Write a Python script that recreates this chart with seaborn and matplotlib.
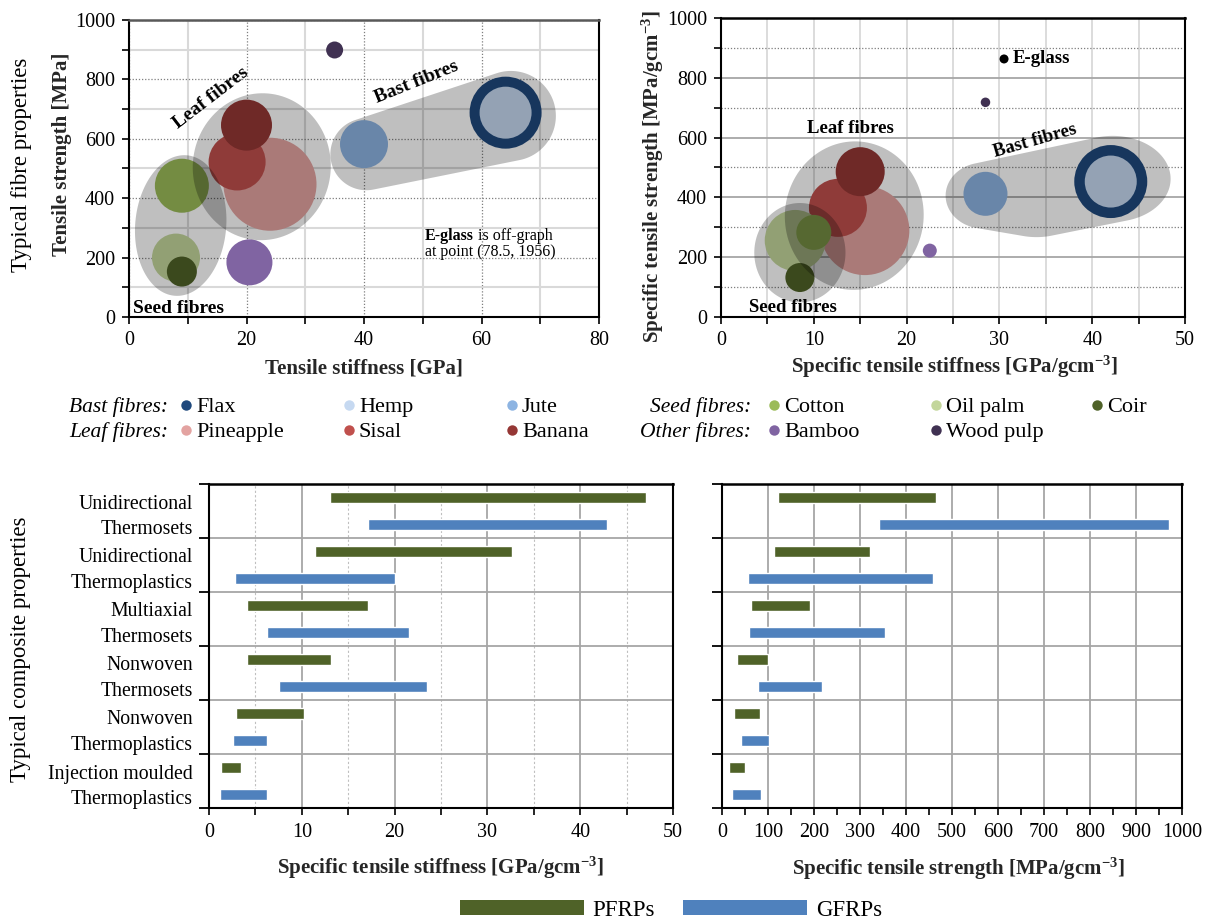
import numpy as np
import pandas as pd
import matplotlib
matplotlib.use("Agg")
import matplotlib.pyplot as plt
import seaborn as sns
from matplotlib.patches import Polygon, Patch
from matplotlib.lines import Line2D
from matplotlib.ticker import MultipleLocator

# ---------------- fibre property data ----------------
fibres = ["Flax", "Hemp", "Jute", "Pineapple", "Sisal", "Banana",
          "Oil palm", "Cotton", "Coir", "Bamboo", "Wood pulp"]
tensile_stiffness = [64.1, 64.1, 40.0, 24.0, 18.4, 20.0, 8.0, 9.0, 9.0, 20.5, 35.0]   # GPa
tensile_strength = [688, 688, 582, 447, 522, 646, 200, 442, 153, 184, 899]            # MPa
bubble_abs = [72, 52, 48, 93, 57, 51, 48, 54, 30, 46, 17]                              # bubble diameter

fibres_spec = fibres + ["E-glass"]
spec_stiffness = [42.0, 42.0, 28.5, 15.5, 12.6, 15.0, 8.0, 10.0, 8.5, 22.5, 28.5, 30.5]  # GPa/gcm-3
spec_strength = [453, 453, 412, 289, 365, 486, 256, 283, 132, 222, 718, 863]            # MPa/gcm-3
bubble_spec = [73, 52, 44, 89, 58, 49, 61, 35, 29, 14, 9.5, 9]

fibre_colors = {
    "Flax": "#1f497d", "Hemp": "#c6d9f1", "Jute": "#8db4e2",
    "Cotton": "#9bbb59", "Oil palm": "#c3d69b", "Coir": "#4f6228",
    "Pineapple": "#e3a3a1", "Sisal": "#c0504d", "Banana": "#953735",
    "Bamboo": "#8064a2", "Wood pulp": "#403152", "E-glass": "#000000",
}

legend_groups = [
    ("Bast fibres:", ["Flax", "Hemp", "Jute"], "Seed fibres:", ["Cotton", "Oil palm", "Coir"]),
    ("Leaf fibres:", ["Pineapple", "Sisal", "Banana"], "Other fibres:", ["Bamboo", "Wood pulp"]),
]

# ---------------- composite property ranges ----------------
composites = ["Unidirectional\nThermosets", "Unidirectional\nThermoplastics",
              "Multiaxial\nThermosets", "Nonwoven\nThermosets",
              "Nonwoven\nThermoplastics", "Injection moulded\nThermoplastics"]
stiff_pfrp_lo = [13.0, 11.4, 4.1, 4.1, 2.9, 1.3]
stiff_pfrp_hi = [47.1, 32.6, 17.1, 13.1, 10.2, 3.4]
stiff_gfrp_lo = [17.1, 2.8, 6.3, 7.5, 2.6, 1.2]
stiff_gfrp_hi = [42.9, 20.0, 21.5, 23.5, 6.3, 6.3]
str_pfrp_lo = [122, 114, 62, 33, 25, 16]
str_pfrp_hi = [466, 322, 192, 99, 83, 49]
str_gfrp_lo = [342, 57, 59, 79, 42, 22]
str_gfrp_hi = [972, 459, 355, 218, 103, 85]

PFRP_COLOR = "#4f6228"
GFRP_COLOR = "#4f81bd"

# ---------------- style ----------------
sns.set_theme(style="white")
plt.rcParams["font.family"] = ["Liberation Serif", "DejaVu Serif"]
plt.rcParams["mathtext.fontset"] = "custom"
plt.rcParams["mathtext.rm"] = "Liberation Serif"
plt.rcParams["mathtext.bf"] = "Liberation Serif:bold"
plt.rcParams["mathtext.it"] = "Liberation Serif:italic"
plt.rcParams["text.color"] = "black"
plt.rcParams["xtick.color"] = "black"
plt.rcParams["ytick.color"] = "black"

W, H = 1211, 922
fig = plt.figure(figsize=(W / 100, H / 100), dpi=100)
fig.patch.set_facecolor("white")


def fx(px):
    return px / W


def fy(py):
    return 1 - py / H


ax1 = fig.add_axes([fx(129), fy(317), 470 / W, 297 / H])
ax2 = fig.add_axes([fx(721), fy(317), 464 / W, 299 / H])
ax3 = fig.add_axes([fx(209), fy(808), 464 / W, 324 / H])
ax4 = fig.add_axes([fx(722), fy(808), 460 / W, 324 / H])

TICK_FS = 14.5
LABEL_FS = 15
GROUP_FS = 14


def convex_hull(points):
    pts = sorted(map(tuple, points))

    def cross(o, a, b):
        return (a[0] - o[0]) * (b[1] - o[1]) - (a[1] - o[1]) * (b[0] - o[0])

    lower, upper = [], []
    for p in pts:
        while len(lower) >= 2 and cross(lower[-2], lower[-1], p) <= 0:
            lower.pop()
        lower.append(p)
    for p in reversed(pts):
        while len(upper) >= 2 and cross(upper[-2], upper[-1], p) <= 0:
            upper.pop()
        upper.append(p)
    return np.array(lower[:-1] + upper[:-1])


def group_outline(ax, parts, n=120):
    """Shaded outline around a fibre group: hull of ellipses (centre in data, radii in px)."""
    t = np.linspace(0, 2 * np.pi, n, endpoint=False)
    pts = []
    for cx, cy, rx, ry, ang in parts:
        c = ax.transData.transform((cx, cy))
        a = np.deg2rad(ang)
        ex, ey = rx * np.cos(t), ry * np.sin(t)
        pts.append(np.column_stack([c[0] + ex * np.cos(a) - ey * np.sin(a),
                                    c[1] + ex * np.sin(a) + ey * np.cos(a)]))
    hull = convex_hull(np.vstack(pts))
    ax.add_patch(Polygon(ax.transData.inverted().transform(hull), closed=True,
                         facecolor="black", alpha=0.25, edgecolor="none", zorder=3))


def bubble_frame(names, xs, ys, diam):
    d = pd.DataFrame({"fibre": names, "x": xs, "y": ys})
    d["area"] = (np.array(diam, dtype=float) * 0.72) ** 2
    return d


def style_spines(ax, top_color="black"):
    for s in ["left", "bottom", "right"]:
        ax.spines[s].set_visible(True)
        ax.spines[s].set_color("black")
        ax.spines[s].set_linewidth(1.5)
    ax.spines["top"].set_visible(True)
    ax.spines["top"].set_color(top_color)
    ax.spines["top"].set_linewidth(1.8)


# ---------------- panel 1: tensile properties ----------------
df1 = bubble_frame(fibres, tensile_stiffness, tensile_strength, bubble_abs)
sns.scatterplot(data=df1, x="x", y="y", hue="fibre", palette=fibre_colors,
                size="area", sizes=(df1.area.min(), df1.area.max()),
                linewidth=0, legend=False, ax=ax1, zorder=2)
ax1.set_xlim(0, 80)
ax1.set_ylim(0, 1000)
ax1.xaxis.set_major_locator(MultipleLocator(20))
ax1.xaxis.set_minor_locator(MultipleLocator(10))
ax1.yaxis.set_major_locator(MultipleLocator(200))
ax1.yaxis.set_minor_locator(MultipleLocator(100))
ax1.set_axisbelow(True)
ax1.grid(which="minor", color="#d9d9d9", linestyle="-", linewidth=1.5)
ax1.grid(which="major", color="#7f7f7f", linestyle=(0, (1, 1.5)), linewidth=0.9)
ax1.tick_params(which="both", direction="out", length=5, width=1.2,
                labelsize=TICK_FS, bottom=True, left=True, pad=5)
style_spines(ax1, top_color="#595959")
ax1.set_xlabel("Tensile stiffness [GPa]", fontsize=LABEL_FS, fontweight="bold")
ax1.set_ylabel("Tensile strength [MPa]", fontsize=LABEL_FS, fontweight="bold")
ax1.xaxis.set_label_coords(0.5, -0.172)
ax1.xaxis.label.set_va("center")
ax1.yaxis.set_label_coords(-0.143, 0.549)
ax1.yaxis.label.set_va("center")

group_outline(ax1, [(8.8, 308, 45.5, 70.5, -5)])
group_outline(ax1, [(22.6, 506, 69, 73.5, -5)])
group_outline(ax1, [(40.4, 548, 36, 36, 0), (65.0, 677, 45, 45, 0)])

ax1.text(13.96, 737, "Leaf fibres", rotation=37.5, ha="center", va="center",
         fontsize=GROUP_FS, fontweight="bold", zorder=5)
ax1.text(48.9, 791, "Bast fibres", rotation=22, ha="center", va="center",
         fontsize=GROUP_FS, fontweight="bold", zorder=5)
ax1.text(0.7, 30, "Seed fibres", ha="left", va="center",
         fontsize=GROUP_FS, fontweight="bold", zorder=5)
t_eg = ax1.text(50.4, 273, "E-glass", ha="left", va="center", fontsize=11.5,
                fontweight="bold", zorder=5)
ax1.annotate(" is off-graph", xy=(1, 0), xycoords=t_eg, ha="left", va="bottom",
             fontsize=11.5, zorder=5)
ax1.text(50.4, 219, "at point (78.5, 1956)", ha="left", va="center",
         fontsize=11.5, zorder=5)

# ---------------- panel 2: specific properties ----------------
df2 = bubble_frame(fibres_spec, spec_stiffness, spec_strength, bubble_spec)
sns.scatterplot(data=df2, x="x", y="y", hue="fibre", palette=fibre_colors,
                size="area", sizes=(df2.area.min(), df2.area.max()),
                linewidth=0, legend=False, ax=ax2, zorder=2)
ax2.set_xlim(0, 50)
ax2.set_ylim(0, 1000)
ax2.xaxis.set_major_locator(MultipleLocator(10))
ax2.xaxis.set_minor_locator(MultipleLocator(5))
ax2.yaxis.set_major_locator(MultipleLocator(200))
ax2.yaxis.set_minor_locator(MultipleLocator(100))
ax2.set_axisbelow(True)
ax2.xaxis.grid(True, which="both", color="#d9d9d9", linestyle="-", linewidth=1.3)
ax2.yaxis.grid(True, which="minor", color="#7f7f7f", linestyle=(0, (1, 1.5)), linewidth=0.9)
ax2.yaxis.grid(True, which="major", color="#a6a6a6", linestyle="-", linewidth=1.3)
ax2.tick_params(which="both", direction="out", length=5, width=1.2,
                labelsize=TICK_FS, bottom=True, left=True, pad=5)
style_spines(ax2)
ax2.set_xlabel(r"Specific tensile stiffness [GPa/gcm$\mathbf{^{-3}}$]",
               fontsize=LABEL_FS, fontweight="bold")
ax2.set_ylabel(r"Specific tensile strength [MPa/gcm$\mathbf{^{-3}}$]",
               fontsize=LABEL_FS, fontweight="bold")
ax2.xaxis.set_label_coords(0.504, -0.167)
ax2.xaxis.label.set_va("center")
ax2.yaxis.set_label_coords(-0.147, 0.468)
ax2.yaxis.label.set_va("center")

group_outline(ax2, [(8.5, 215, 45.6, 49.7, 0)])
group_outline(ax2, [(14.36, 339, 69.4, 74.3, -5)])
group_outline(ax2, [(28.3, 406, 38, 33, 0), (34.0, 334, 40, 20, 0),
                    (42.2, 462, 58, 43, 0)])

ax2.text(31.4, 863, "E-glass", ha="left", va="center", fontsize=13.5,
         fontweight="bold", zorder=5)
ax2.text(14.0, 629, "Leaf fibres", ha="center", va="center", fontsize=13.5,
         fontweight="bold", zorder=5)
ax2.text(33.8, 589, "Bast fibres", rotation=16, ha="center", va="center",
         fontsize=13.5, fontweight="bold", zorder=5)
ax2.text(7.76, 33, "Seed fibres", ha="center", va="center", fontsize=13.5,
         fontweight="bold", zorder=5)

# ---------------- fibre legend ----------------
row_y = [405, 430]
marker_x_left = [186, 349, 512]
marker_x_right = [774, 936, 1097]
for (gl, names_l, gr, names_r), ry in zip(legend_groups, row_y):
    fig.text(fx(168), fy(ry), gl, ha="right", va="center_baseline",
             fontsize=15.5, style="italic")
    fig.text(fx(751), fy(ry), gr, ha="right", va="center_baseline",
             fontsize=15.5, style="italic")
    for names, xs in ((names_l, marker_x_left), (names_r, marker_x_right)):
        for name, mx in zip(names, xs):
            fig.add_artist(Line2D([fx(mx)], [fy(ry)], transform=fig.transFigure,
                                  marker="o", markersize=7.5, linestyle="none",
                                  markerfacecolor=fibre_colors[name],
                                  markeredgewidth=0))
            fig.text(fx(mx + 10), fy(ry), name, ha="left", va="center_baseline",
                     fontsize=16)

fig.text(fx(22), fy(165), "Typical fibre properties", rotation=90,
         ha="center", va="center", fontsize=16.5)
fig.text(fx(21), fy(649), "Typical composite properties", rotation=90,
         ha="center", va="center", fontsize=16.5)

# ---------------- panels 3/4: composite ranges ----------------
ypos = np.arange(len(composites))


def range_panel(ax, p_lo, p_hi, g_lo, g_hi):
    p_lo, p_hi, g_lo, g_hi = map(np.asarray, (p_lo, p_hi, g_lo, g_hi))
    ax.barh(ypos + 0.25, p_hi - p_lo, left=p_lo, height=0.2,
            color=PFRP_COLOR, zorder=3)
    ax.barh(ypos + 0.75, g_hi - g_lo, left=g_lo, height=0.2,
            color=GFRP_COLOR, zorder=3)
    ax.set_ylim(len(composites), 0)
    ax.set_yticks(np.arange(len(composites) + 1))
    ax.set_yticklabels([])
    ax.set_axisbelow(True)
    ax.yaxis.grid(True, which="major", color="#a6a6a6", linewidth=1.3)
    ax.tick_params(axis="y", which="major", direction="out", length=7,
                   width=1.3, left=True)
    ax.tick_params(axis="x", which="both", direction="out", length=5,
                   width=1.2, bottom=True, labelsize=TICK_FS, pad=6)
    style_spines(ax)


range_panel(ax3, stiff_pfrp_lo, stiff_pfrp_hi, stiff_gfrp_lo, stiff_gfrp_hi)
ax3.set_xlim(0, 50)
ax3.xaxis.set_major_locator(MultipleLocator(10))
ax3.xaxis.set_minor_locator(MultipleLocator(5))
ax3.xaxis.grid(True, which="major", color="#a6a6a6", linewidth=1.3)
ax3.xaxis.grid(True, which="minor", color="#bfbfbf", linestyle=(0, (2, 2)), linewidth=0.8)
ax3.set_yticks(ypos + 0.5, minor=True)
ax3.set_yticklabels(composites, minor=True, fontsize=14.2, linespacing=1.45,
                    multialignment="right")
ax3.tick_params(axis="y", which="minor", length=0, pad=11.5)
ax3.set_xlabel(r"Specific tensile stiffness [GPa/gcm$\mathbf{^{-3}}$]",
               fontsize=LABEL_FS, fontweight="bold")
ax3.xaxis.set_label_coords(0.5, -0.185)
ax3.xaxis.label.set_va("center")

range_panel(ax4, str_pfrp_lo, str_pfrp_hi, str_gfrp_lo, str_gfrp_hi)
ax4.set_xlim(0, 1000)
ax4.xaxis.set_major_locator(MultipleLocator(100))
ax4.xaxis.set_minor_locator(MultipleLocator(50))
ax4.xaxis.grid(True, which="major", color="#a6a6a6", linewidth=1.3)
ax4.set_xlabel(r"Specific tensile strength [MPa/gcm$\mathbf{^{-3}}$]",
               fontsize=LABEL_FS, fontweight="bold")
ax4.xaxis.set_label_coords(0.513, -0.188)
ax4.xaxis.label.set_va("center")

fs_leg = 16.5
fs_px = fs_leg * 100 / 72
fig.legend(handles=[Patch(facecolor=PFRP_COLOR, edgecolor="none"),
                    Patch(facecolor=GFRP_COLOR, edgecolor="none")],
           labels=["PFRPs", "GFRPs"], ncol=2, loc="center",
           bbox_to_anchor=(fx(671), fy(910)), frameon=False, fontsize=fs_leg,
           handlelength=124 / fs_px, handleheight=14 / fs_px,
           handletextpad=9 / fs_px, columnspacing=28 / fs_px, borderpad=0)

fig.savefig("out.png", dpi=100, facecolor="white")
